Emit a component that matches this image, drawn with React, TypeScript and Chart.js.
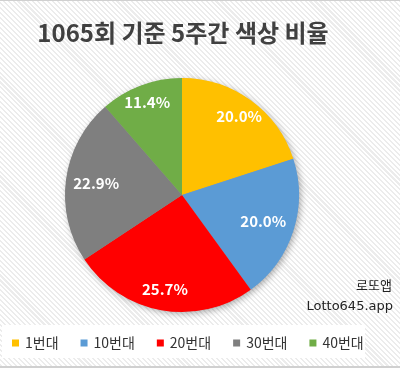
import React, { useEffect, useRef } from "react";
import { Chart, registerables } from "chart.js";

Chart.register(...registerables);

const titleText = "1065회 기준 5주간 색상 비율";
const categories = ["1번대", "10번대", "20번대", "30번대", "40번대"];
const shares = [20.0, 20.0, 25.7, 22.9, 11.4];
const colors = ["#FFC000", "#5B9BD5", "#FF0000", "#7F7F7F", "#70AD47"];
const watermarkLines = ["로또앱", "Lotto645.app"];
const labelRadius = [0.83, 0.73, 0.82, 0.74, 0.85];

const FONT = '"Noto Sans CJK KR", "Noto Sans", sans-serif';

const W = 400;
const H = 368;

const decorPlugin = {
  id: "decor",
  beforeDatasetsDraw(chart: any) {
    const meta = chart.getDatasetMeta(0);
    const el = meta.data[0];
    if (!el) return;
    const ctx = chart.ctx;
    ctx.save();
    ctx.shadowColor = "rgba(0,0,0,0.35)";
    ctx.shadowBlur = 7;
    ctx.shadowOffsetX = 2;
    ctx.shadowOffsetY = 2;
    ctx.fillStyle = "#999";
    ctx.beginPath();
    ctx.arc(el.x, el.y, el.outerRadius - 0.5, 0, Math.PI * 2);
    ctx.fill();
    ctx.restore();
  },
  afterDatasetsDraw(chart: any) {
    const ctx = chart.ctx;
    const meta = chart.getDatasetMeta(0);
    ctx.save();
    ctx.fillStyle = "#ffffff";
    ctx.font = `bold 15px ${FONT}`;
    ctx.textAlign = "center";
    ctx.textBaseline = "middle";
    meta.data.forEach((arc: any, i: number) => {
      const mid = (arc.startAngle + arc.endAngle) / 2;
      const r = arc.outerRadius * labelRadius[i];
      const x = arc.x + Math.cos(mid) * r;
      const y = arc.y + Math.sin(mid) * r;
      ctx.fillText(shares[i].toFixed(1) + "%", x, y);
    });
    ctx.restore();
  },
  afterDraw(chart: any) {
    const ctx = chart.ctx;
    ctx.save();
    // title
    ctx.fillStyle = "#404040";
    ctx.font = `bold 24px ${FONT}`;
    ctx.textAlign = "center";
    ctx.textBaseline = "middle";
    ctx.fillText(titleText, 183, 33);

    // watermark
    ctx.fillStyle = "#222";
    ctx.font = `13px ${FONT}`;
    ctx.textAlign = "right";
    ctx.fillText(watermarkLines[0], 392, 285);
    ctx.font = `13px "DejaVu Sans", sans-serif`;
    ctx.fillText(watermarkLines[1], 393, 307);

    // legend box
    ctx.fillStyle = "#ffffff";
    ctx.fillRect(2, 325, 363, 33);

    // legend items
    ctx.font = `14px ${FONT}`;
    ctx.textAlign = "left";
    ctx.textBaseline = "middle";
    const box = 7;
    const gapText = 6;
    const gapItem = 22;
    let x = 12;
    const y = 343;
    categories.forEach((c, i) => {
      ctx.fillStyle = colors[i];
      ctx.fillRect(x, y - box / 2, box, box);
      ctx.fillStyle = "#333333";
      ctx.fillText(c, x + box + gapText, y);
      x += box + gapText + ctx.measureText(c).width + gapItem;
    });

    // borders
    ctx.fillStyle = "#d0d0d0";
    ctx.fillRect(0, 0, W, 1);
    ctx.fillRect(0, H - 2, W, 2);
    ctx.restore();
  },
};

export default function App() {
  const ref = useRef<HTMLCanvasElement>(null);
  useEffect(() => {
    document.body.style.margin = "0";
    const canvas = ref.current!;
    const chart = new Chart(canvas, {
      type: "pie",
      data: {
        labels: categories,
        datasets: [
          {
            data: shares,
            backgroundColor: colors,
            borderWidth: 0,
          },
        ],
      },
      options: {
        responsive: false,
        animation: false,
        events: [],
        layout: { padding: { top: 78, bottom: 56, left: 64, right: 100 } },
        plugins: {
          legend: { display: false },
          title: { display: false },
          tooltip: { enabled: false },
        },
      },
      plugins: [decorPlugin],
    });
    return () => chart.destroy();
  }, []);
  return (
    <div
      style={{
        position: "absolute",
        left: 0,
        top: 0,
        width: W,
        height: H,
        background:
          "repeating-linear-gradient(45deg, #ffffff 0px, #ffffff 2px, #ececec 2px, #ececec 3.5px)",
      }}
    >
      <canvas ref={ref} width={W} height={H} style={{ display: "block" }} />
    </div>
  );
}
